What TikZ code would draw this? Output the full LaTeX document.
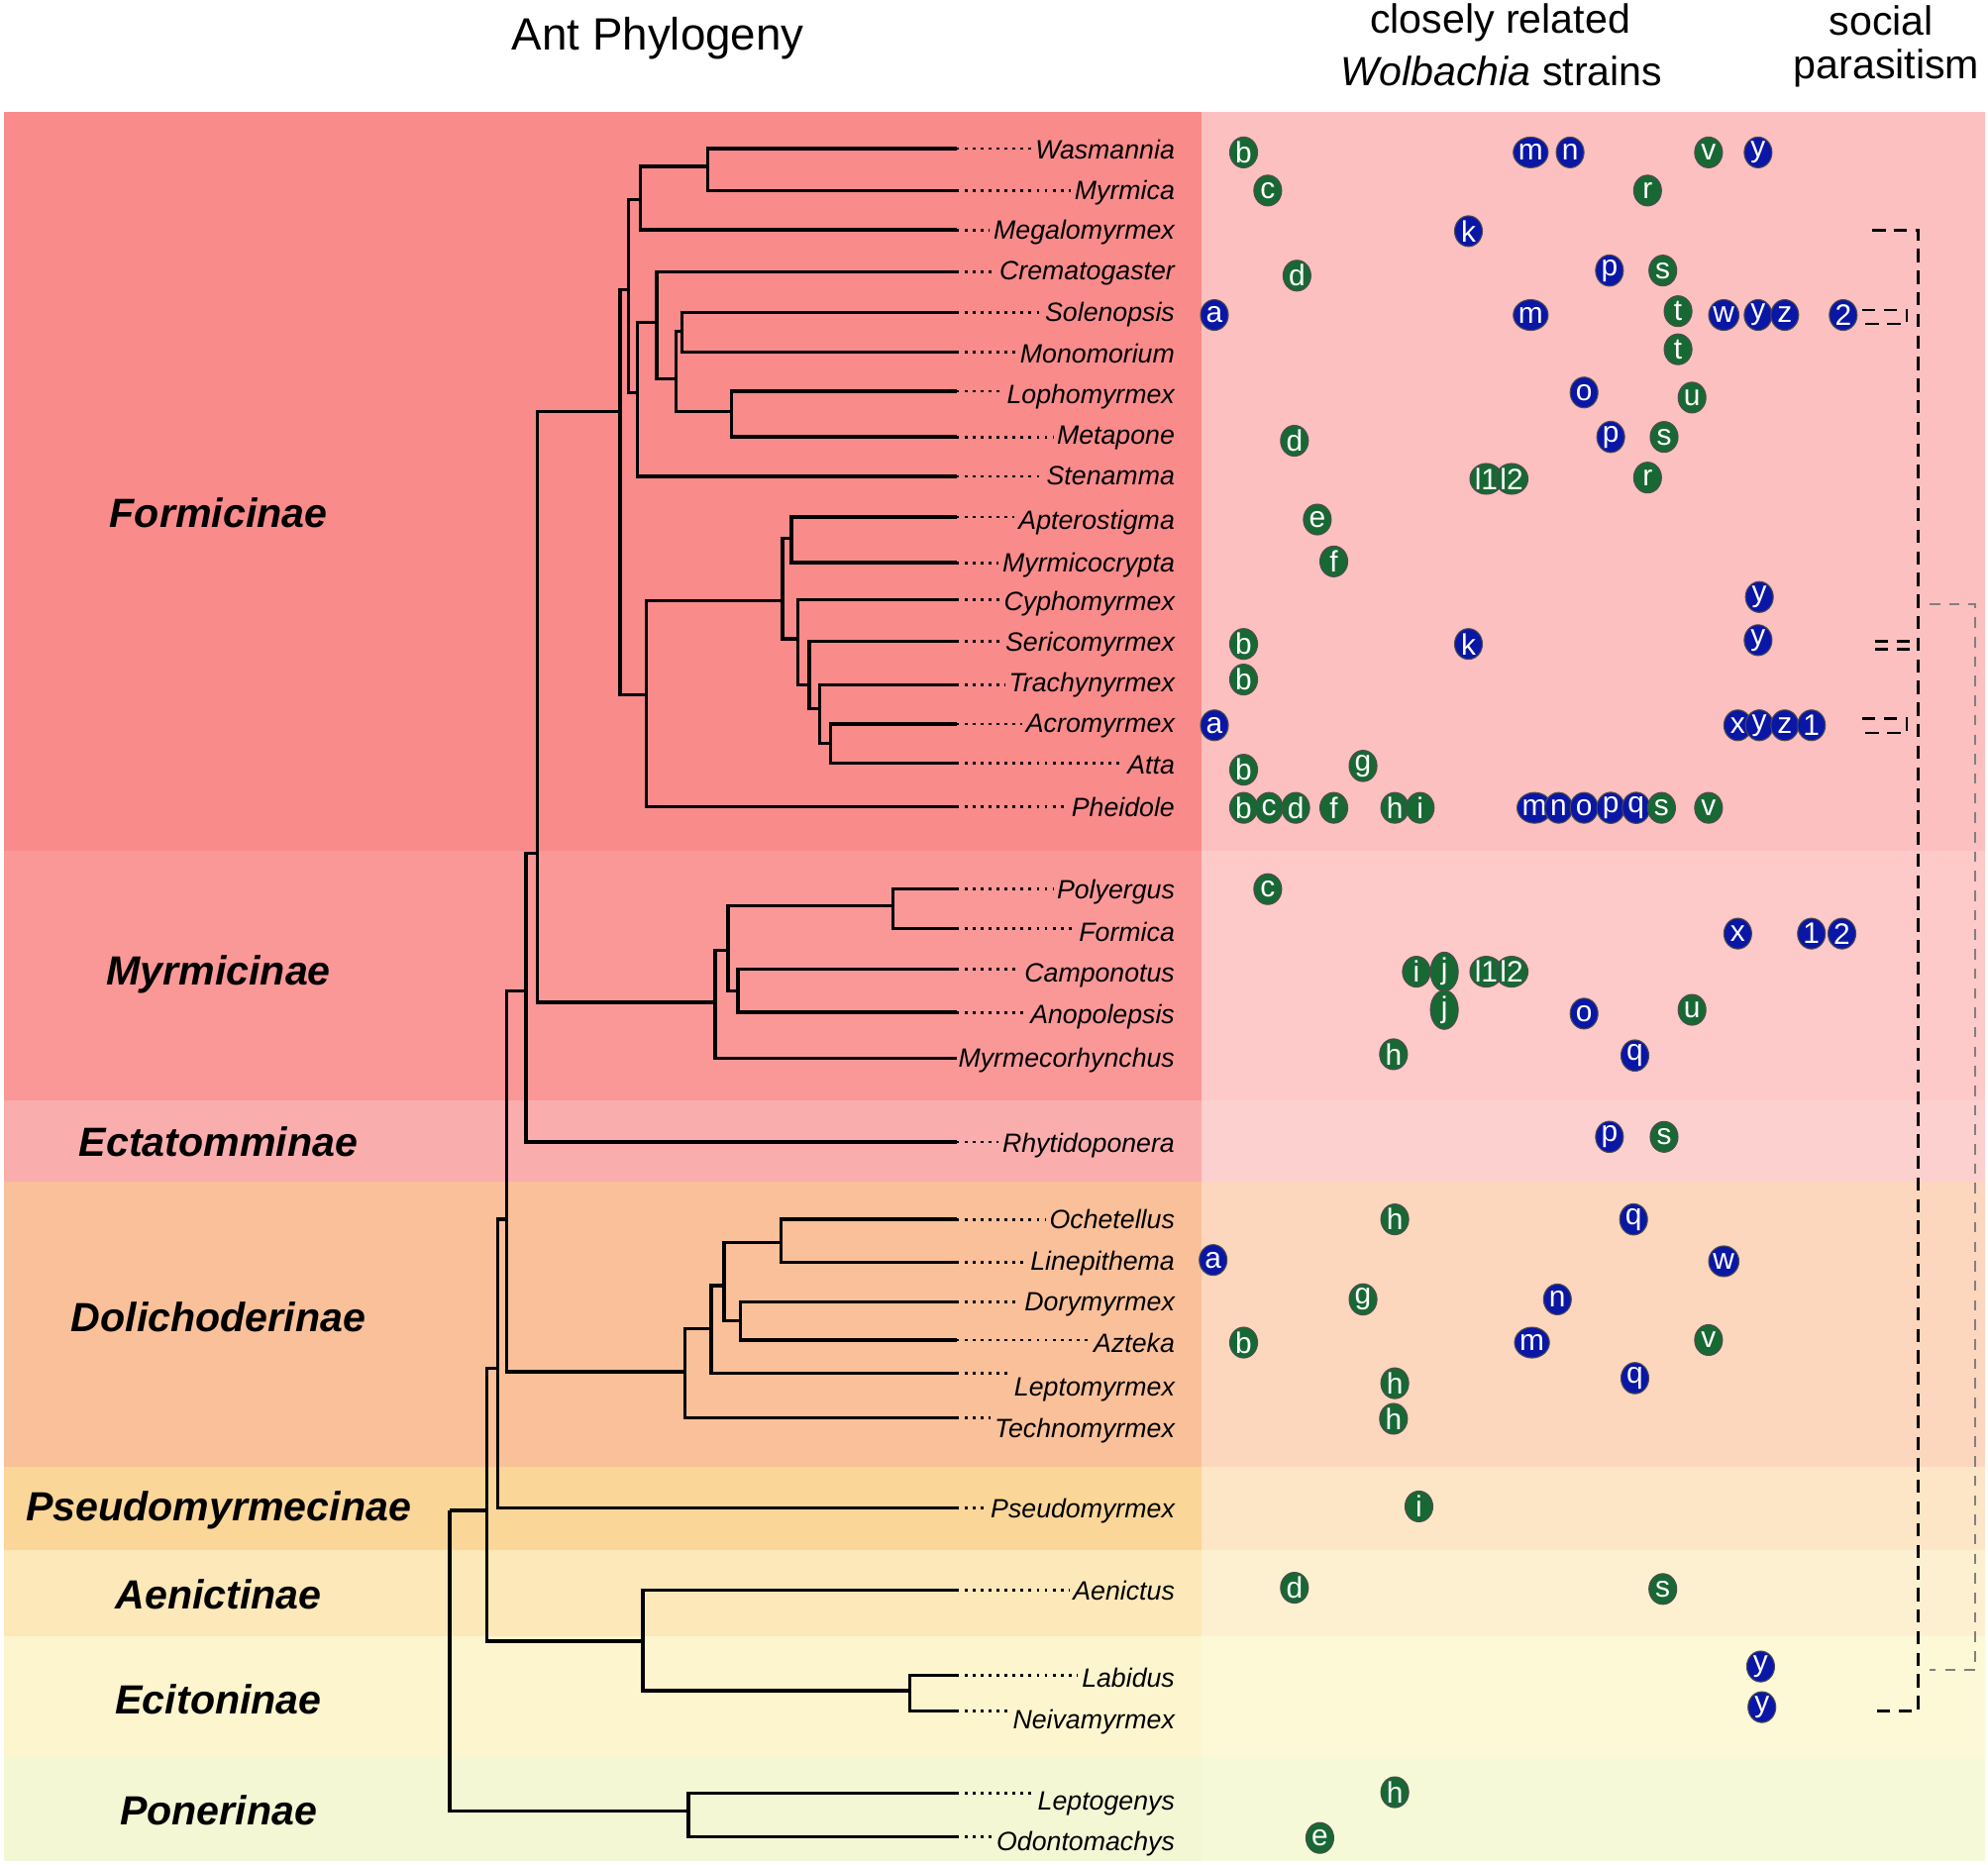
\documentclass[tikz,border=0pt]{standalone}
\usepackage{fontspec}
\setmainfont{Liberation Sans}
\usetikzlibrary{shapes.geometric}
\definecolor{formL}{RGB}{249,139,139}
\definecolor{formR}{RGB}{252,192,192}
\definecolor{myrmL}{RGB}{250,152,152}
\definecolor{myrmR}{RGB}{253,201,201}
\definecolor{ectaL}{RGB}{250,173,173}
\definecolor{ectaR}{RGB}{253,208,208}
\definecolor{doliL}{RGB}{249,192,154}
\definecolor{doliR}{RGB}{253,214,190}
\definecolor{pseuL}{RGB}{250,214,153}
\definecolor{pseuR}{RGB}{253,230,198}
\definecolor{aeniL}{RGB}{252,232,184}
\definecolor{aeniR}{RGB}{253,240,208}
\definecolor{eciL}{RGB}{252,245,206}
\definecolor{eciR}{RGB}{253,248,214}
\definecolor{ponL}{RGB}{243,247,212}
\definecolor{ponR}{RGB}{246,249,216}
\definecolor{wgreen}{RGB}{24,104,52}
\definecolor{wblue}{RGB}{10,22,165}
\tikzset{
  branch/.style={line width=0.95pt},
  leafdots/.style={line width=0.8pt, dash pattern=on 0.8pt off 1.5pt},
  genus/.style={anchor=base east, inner sep=1pt, font=\fontsize{7.6}{9}\selectfont\itshape},
  clade/.style={font=\fontsize{11.7}{14}\selectfont\bfseries\itshape},
  head/.style={font=\fontsize{11.7}{14}\selectfont},
  strain/.style={ellipse, draw=black!70, line width=0.3pt, inner sep=0pt,
    minimum width=0.28cm, minimum height=0.31cm, text=white,
    font=\fontsize{8.5}{8.5}\selectfont},
  parasite/.style={line width=0.8pt, dash pattern=on 3.8pt off 2.4pt},
}

\begin{document}
\begin{tikzpicture}[x=0.012825cm, y=-0.012825cm]
  \useasboundingbox (0,0) rectangle (1565,1468);
  % subfamily bands
  \foreach \ya/\yb/\cl/\cr in {88/670/formL/formR, 670/866/myrmL/myrmR, 866/930/ectaL/ectaR,
      930/1155/doliL/doliR, 1155/1220/pseuL/pseuR, 1220/1288/aeniL/aeniR,
      1288/1383/eciL/eciR, 1383/1465/ponL/ponR} {
    \fill[\cl] (3,\ya) rectangle (946,\yb);
    \fill[\cr] (946,\ya) rectangle (1563,\yb);
  }
  % headings
  \node[head, font=\fontsize{13}{15}\selectfont] (title) at (518,30) {Ant Phylogeny};
  \node[head] (strains1) at (1181,18) {closely related};
  \node[head] (strains2) at (1182,56) {\textit{Wolbachia} strains};
  \node[head] (social1) at (1481,16) {social};
  \node[head] (social2) at (1485,54) {parasitism};
  % subfamily names
  \foreach \n/\y/\t in {formicinae/404/Formicinae, myrmicinae/767/Myrmicinae,
      ectatomminae/899/Ectatomminae, dolichoderinae/1037/Dolichoderinae,
      pseudomyrmecinae/1189/Pseudomyrmecinae, aenictinae/1255/Aenictinae,
      ecitoninae/1338/Ecitoninae, ponerinae/1425/Ponerinae}
    \node[clade] (\n) at (172,\y) {\t};
  % leaves
  \foreach \n/\y/\ly/\t in {wasm/117/118/Wasmannia, myrmica/150/150/Myrmica,
      megalo/181/181/Megalomyrmex, cremato/214/213/Crematogaster, soleno/246/246/Solenopsis,
      monomo/277/279/Monomorium, lopho/308/311/Lophomyrmex, metapone/344/343/Metapone,
      stenamma/375/375/Stenamma, aptero/407/410/Apterostigma, myrmico/443/443/Myrmicocrypta,
      cypho/472/474/Cyphomyrmex, serico/505/506/Sericomyrmex, trachy/539/538/Trachynyrmex,
      acro/570/570/Acromyrmex, atta/601/602/Atta, pheidole/635/636/Pheidole,
      polyergus/700/701/Polyergus, formica/731/734/Formica, campo/763/766/Camponotus,
      anopo/797/799/Anopolepsis, myrmeco/833/833/Myrmecorhynchus, rhytido/899/900/Rhytidoponera,
      ochet/960/960/Ochetellus, linep/994/993/Linepithema, dory/1025/1025/Dorymyrmex,
      azteka/1055/1058/Azteka, leptomy/1081/1092/Leptomyrmex, techno/1116/1125/Technomyrmex,
      pseudo/1187/1188/Pseudomyrmex, aenictus/1252/1253/Aenictus, labidus/1319/1321/Labidus,
      neiva/1347/1354/Neivamyrmex, leptog/1412/1418/Leptogenys, odonto/1446/1450/Odontomachys} {
    \coordinate (\n) at (753,\y);
    \node[genus] (\n-l) at (928,{\ly+7}) {\t};
    \draw[leafdots] (\n) -- (\n-l.west |- \n);
  }
  % inner nodes of the tree
  \foreach \n/\x/\y in {root/354/1189, n1/383/1189, n2/392/1077, n3/399/960, n4/414/780,
      n5/423/672, form/488/324, f1/495/228, f2/504/157, f3/502/309, f4/557/131,
      f5/517/254, f6/532/298, f7/537/261, f8/576/324, fb/509/547, att/616/473,
      a1/623/424, a2/628/503, a3/637/539, a4/645/558, a5/654/585, myrm/563/789,
      m1/573/748, m2/703/713, m3/581/780, doli/539/1080, d1/560/1046, d2/570/1012,
      d3/615/978, d4/583/1040, ecit/506/1292, e1/716/1331, pon/542/1426}
    \coordinate (\n) at (\x,\y);
  \foreach \p/\c in {root/n1, root/pon, n1/n2, n1/ecit, n2/n3, n2/pseudo, n3/n4, n3/doli,
      n4/n5, n4/rhytido, n5/form, n5/myrm, form/f1, form/fb, f1/f2, f1/f3, f2/f4, f2/megalo,
      f4/wasm, f4/myrmica, f3/f5, f3/stenamma, f5/cremato, f5/f6, f6/f7, f6/f8,
      f7/soleno, f7/monomo, f8/lopho, f8/metapone, fb/att, fb/pheidole, att/a1, att/a2,
      a1/aptero, a1/myrmico, a2/cypho, a2/a3, a3/serico, a3/a4, a4/trachy, a4/a5,
      a5/acro, a5/atta, myrm/m1, myrm/myrmeco, m1/m2, m1/m3, m2/polyergus, m2/formica,
      m3/campo, m3/anopo, doli/d1, doli/techno, d1/d2, d1/leptomy, d2/d3, d2/d4,
      d3/ochet, d3/linep, d4/dory, d4/azteka, ecit/aenictus, ecit/e1, e1/labidus,
      e1/neiva, pon/leptog, pon/odonto}
    \draw[branch] (\p) |- (\c);
  % Wolbachia strains
  \foreach \x/\y/\t/\c [count=\i] in {979/120/b/wgreen, 1205/120/m/wblue, 1236/120/n/wblue,
      1345/120/v/wgreen, 1384/120/y/wblue,
      998/150/c/wgreen, 1297/150/r/wgreen,
      1156/182/k/wblue,
      1021/217/d/wgreen, 1267/213/p/wblue, 1309/213/s/wgreen,
      956/248/a/wblue, 1205/248/m/wblue, 1321/245/t/wgreen, 1357/248/w/wblue,
      1384/248/y/wblue, 1405/248/z/wblue, 1451/248/2/wblue,
      1321/275/t/wgreen,
      1247/309/o/wblue, 1332/313/u/wgreen,
      1019/347/d/wgreen, 1268/344/p/wblue, 1310/344/s/wgreen,
      1170/377/l1/wgreen, 1190/377/l2/wgreen, 1297/376/r/wgreen,
      1037/409/e/wgreen,
      1050/442/f/wgreen,
      1385/470/y/wblue,
      979/507/b/wgreen, 1156/507/k/wblue, 1384/504/y/wblue,
      979/535/b/wgreen,
      956/571/a/wblue, 1368/571/x/wblue, 1385/571/y/wblue, 1405/571/z/wblue, 1426/571/1/wblue,
      979/606/b/wgreen, 1073/603/g/wgreen,
      979/636/b/wgreen, 999/636/c/wgreen, 1020/636/d/wgreen, 1050/636/f/wgreen,
      1098/636/h/wgreen, 1118/636/i/wgreen, 1208/636/m/wblue, 1227/636/n/wblue,
      1247/636/o/wblue, 1268/636/p/wblue, 1288/636/q/wblue, 1308/636/s/wgreen,
      1345/636/v/wgreen,
      998/700/c/wgreen,
      1368/735/x/wblue, 1426/735/1/wblue, 1450/735/2/wblue,
      1115/765/i/wgreen, 1137/765/j/wgreen, 1170/765/l1/wgreen, 1190/765/l2/wgreen,
      1137/795/j/wgreen, 1247/798/o/wblue, 1332/795/u/wgreen,
      1097/830/h/wgreen, 1287/831/q/wblue,
      1267/895/p/wblue, 1310/895/s/wgreen,
      1098/960/h/wgreen, 1286/960/q/wblue,
      955/992/a/wblue, 1357/993/w/wblue,
      1073/1023/g/wgreen, 1226/1023/n/wblue,
      979/1057/b/wgreen, 1206/1057/m/wblue, 1345/1055/v/wgreen,
      1098/1089/h/wgreen, 1287/1085/q/wblue,
      1097/1117/h/wgreen,
      1117/1186/i/wgreen,
      1019/1250/d/wgreen, 1309/1251/s/wgreen,
      1386/1312/y/wblue,
      1387/1344/y/wblue,
      1098/1411/h/wgreen,
      1039/1447/e/wgreen}
    \node[strain, fill=\c] (w\i) at (\x,\y) {\t};
  % social parasitism
  \coordinate (pmega) at (1474,181);
  \coordinate (pneiva) at (1477,1347);
  \coordinate (psol) at (1466,244);
  \coordinate (pacro) at (1466,566);
  \coordinate (pser1) at (1476,505);
  \coordinate (pser2) at (1476,511);
  \coordinate (pcypho) at (1519,476);
  \coordinate (plabidus) at (1519,1315);
  \draw[parasite] (pmega) -- ++(36,0) |- (pneiva);
  \draw[parasite] (psol) -- ++(35,0) -- ++(0,11) -- ++(-35,0);
  \draw[parasite] (pacro) -- ++(35,0) -- ++(0,11) -- ++(-35,0);
  \draw[parasite] (pser1) -- ++(34,0);
  \draw[parasite] (pser2) -- ++(34,0);
  \draw[parasite, gray, line width=0.55pt, dash pattern=on 3pt off 2.6pt] (pcypho) -- ++(36,0) |- (plabidus);
\end{tikzpicture}
\end{document}
